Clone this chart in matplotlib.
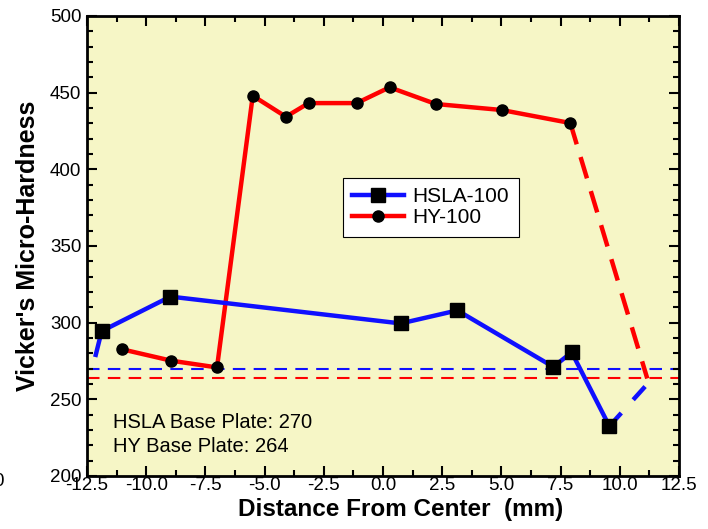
import matplotlib.pyplot as plt
from matplotlib.ticker import MultipleLocator

plt.rcParams['font.family'] = ['Liberation Sans', 'DejaVu Sans']

# HSLA-100 measurements (first point is where the line starts, no marker)
hsla_x = [-12.13, -11.88, -8.98, 0.75, 3.14, 7.19, 7.97, 9.56]
hsla_y = [279, 294.5, 317, 299.5, 308, 271.2, 280.6, 232.5]
hsla_ext_x = [9.56, 11.44]
hsla_ext_y = [232.5, 264.7]

# HY-100 measurements
hy_x = [-11.01, -8.94, -7.01, -5.50, -4.10, -3.14, -1.11, 0.28, 2.23, 5.01, 7.91]
hy_y = [282.6, 275.2, 270.8, 448, 434.3, 443.2, 443.2, 453.5, 442.6, 438.7, 430.2]
hy_ext_x = [7.91, 11.16]
hy_ext_y = [430.2, 263.6]

hsla_base = 270
hy_base = 264

fig = plt.figure(figsize=(7.08, 5.29), dpi=100)
ax = fig.add_axes([87/708, 1 - 476/529, 592/708, 460/529])
ax.set_facecolor('#f6f6c6')

blue = '#1010ff'
red = '#ff0000'

ax.axhline(hsla_base, color=blue, lw=1.5, ls=(0, (6, 4)), zorder=1)
ax.axhline(hy_base, color=red, lw=1.5, ls=(0, (6, 4)), zorder=1)

ax.plot(hsla_ext_x, hsla_ext_y, color=blue, lw=3.2, ls=(0, (4, 4)), zorder=2)
ax.plot(hy_ext_x, hy_ext_y, color=red, lw=3.2, ls=(0, (5, 3)), zorder=2)

ax.plot(hy_x, hy_y, color=red, lw=3.2, marker='o', ms=8, mfc='black', mec='black',
        label='HY-100', zorder=3)
ax.plot(hsla_x, hsla_y, color=blue, lw=3.2, marker='s', ms=9.5, mfc='black', mec='black',
        markevery=list(range(1, len(hsla_x))), zorder=4)
# legend handle for HSLA
ax.plot([], [], color=blue, lw=3.2, marker='s', ms=9.5, mfc='black', mec='black', label='HSLA-100')

h, l = ax.get_legend_handles_labels()
leg = ax.legend(h[::-1], l[::-1], loc='upper left', bbox_to_anchor=(0.432, 0.648),
                fontsize=15, frameon=True, fancybox=False, borderpad=0.45,
                handlelength=2.5, handletextpad=0.4, labelspacing=0.1, borderaxespad=0)
leg.get_frame().set_edgecolor('black')
leg.get_frame().set_linewidth(0.8)
leg.get_frame().set_facecolor('white')
leg.get_frame().set_alpha(1)

ax.text(-11.4, 235, 'HSLA Base Plate: 270', fontsize=14.5, va='center')
ax.text(-11.4, 219.5, 'HY Base Plate: 264', fontsize=14.5, va='center')

ax.set_xlim(-12.5, 12.5)
ax.set_ylim(200, 500)
ax.xaxis.set_major_locator(MultipleLocator(2.5))
ax.xaxis.set_minor_locator(MultipleLocator(1.25))
ax.yaxis.set_major_locator(MultipleLocator(50))
ax.yaxis.set_minor_locator(MultipleLocator(10))
ax.xaxis.set_major_formatter(plt.FuncFormatter(lambda v, p: f'{v:.1f}'))
ax.tick_params(which='both', direction='in', top=True, right=True, width=1.5, labelsize=13.5)
ax.tick_params(which='major', length=7)
ax.tick_params(which='minor', length=4)
ax.tick_params(axis='x', pad=1)
ax.tick_params(axis='y', pad=4)
for s in ax.spines.values():
    s.set_linewidth(2)

ax.set_xlabel('Distance From Center  (mm)', fontsize=17.5, fontweight='bold')
ax.set_ylabel("Vicker's Micro-Hardness", fontsize=18, fontweight='bold')
ax.xaxis.set_label_coords(0.53, -0.048)
ax.yaxis.set_label_coords(-0.079, 0.5)

# leftover fragment at the left edge
fig.text(0.006, 1 - 482/529, '0', fontsize=13.5, ha='right', va='center')

fig.savefig('out.png', dpi=100)
